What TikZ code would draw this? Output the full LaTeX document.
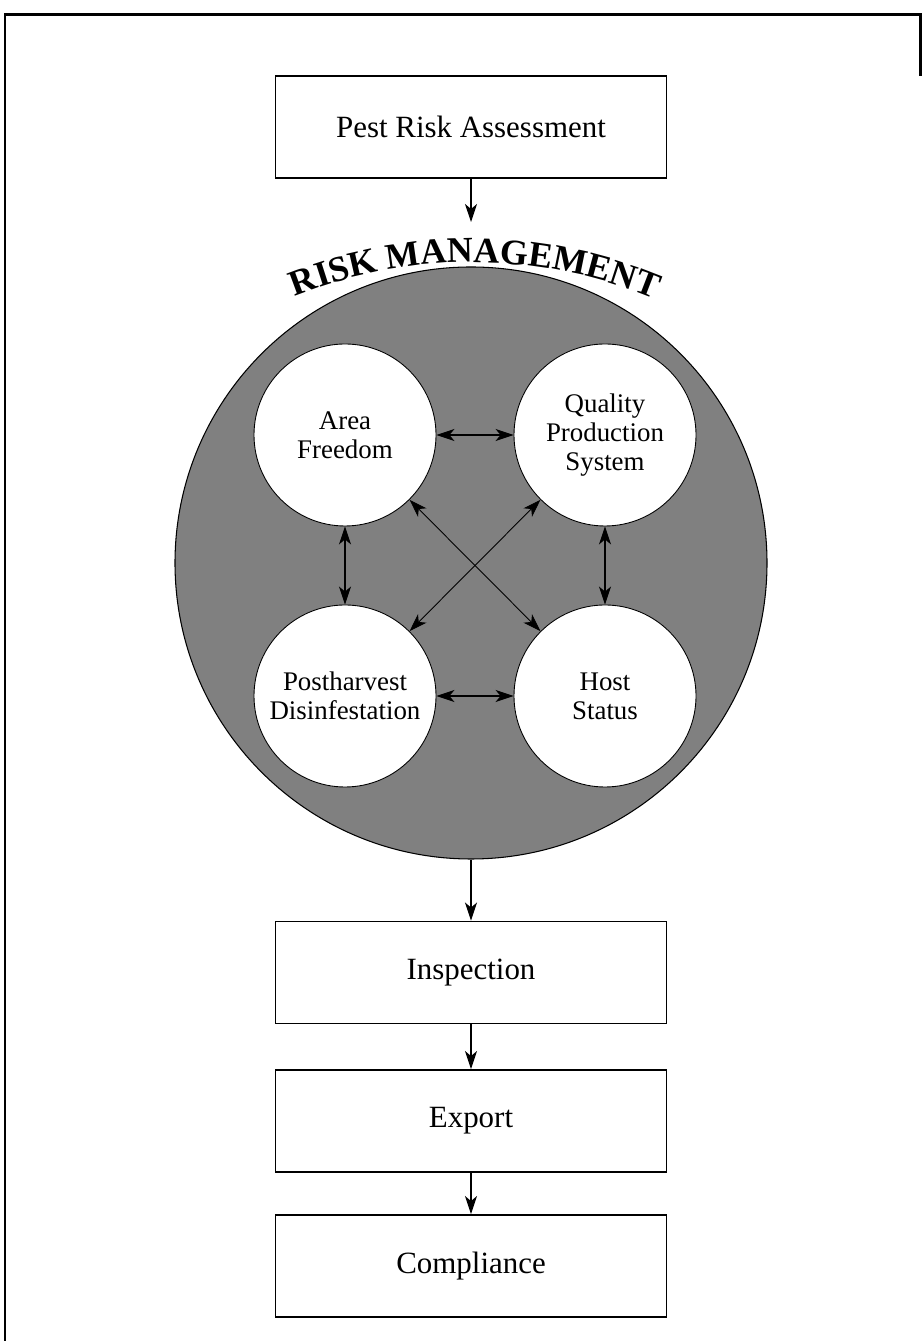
\documentclass[tikz,border=0pt]{standalone}
\usepackage{fontspec}
\setmainfont{Liberation Serif}
\usetikzlibrary{arrows.meta,decorations.text}

\tikzset{
    stage/.style={draw, line width=1.1pt, minimum width=7.82cm, minimum height=2.04cm,
        font=\fontsize{17.6}{19}\selectfont},
    factor/.style={circle, draw, fill=white, line width=0.5pt, minimum size=3.64cm,
        inner sep=0pt, align=center, font=\fontsize{15.3}{16.5}\selectfont},
}

\begin{document}
\begin{tikzpicture}[>={Stealth[length=3.6mm,width=2.4mm,inset=1mm]}]
    \useasboundingbox (0,0) rectangle (18.44,26.82);
    \draw[line width=1.7pt] (0.1,0) -- (0.1,26.52) -- (18.4,26.52) -- (18.4,25.3);
    \node[stage] (pra) at (9.42,24.28) {Pest Risk Assessment};
    \coordinate (rmtop) at (9.42,22.38);
    \node[circle, draw, fill=black!50, line width=0.6pt, minimum size=11.84cm] (rm) at (9.42,15.56) {};
    \path[decorate, decoration={text along path, text align={fit to path},
        text={|\bfseries\fontsize{20.5}{20.5}\selectfont|RISK MANAGEMENT}}]
        (9.44,12.02) ++(111.8:9.55) arc [start angle=111.8, end angle=68.2, radius=9.55];
    \node[factor] (af) at (6.9,18.12) {Area\\Freedom};
    \node[factor] (qps) at (12.1,18.12) {Quality\\Production\\System};
    \node[factor] (pd) at (6.9,12.9) {Postharvest\\Disinfestation};
    \node[factor] (hs) at (12.1,12.9) {Host\\Status};
    \draw[<->, line width=0.6pt] (af) -- (qps);
    \draw[<->, line width=0.6pt] (pd) -- (hs);
    \draw[<->, line width=0.6pt] (af) -- (pd);
    \draw[<->, line width=0.6pt] (qps) -- (hs);
    \draw[<->, line width=0.5pt] (af) -- (hs);
    \draw[<->, line width=0.5pt] (qps) -- (pd);
    \node[stage] (insp) at (9.42,7.37) {Inspection};
    \node[stage] (exp) at (9.42,4.40) {Export};
    \node[stage] (comp) at (9.42,1.50) {Compliance};
    \draw[->, line width=0.6pt] (pra) -- (rmtop);
    \draw[->, line width=0.6pt] (rm) -- (insp);
    \draw[->, line width=0.6pt] (insp) -- (exp);
    \draw[->, line width=0.6pt] (exp) -- (comp);
\end{tikzpicture}
\end{document}
